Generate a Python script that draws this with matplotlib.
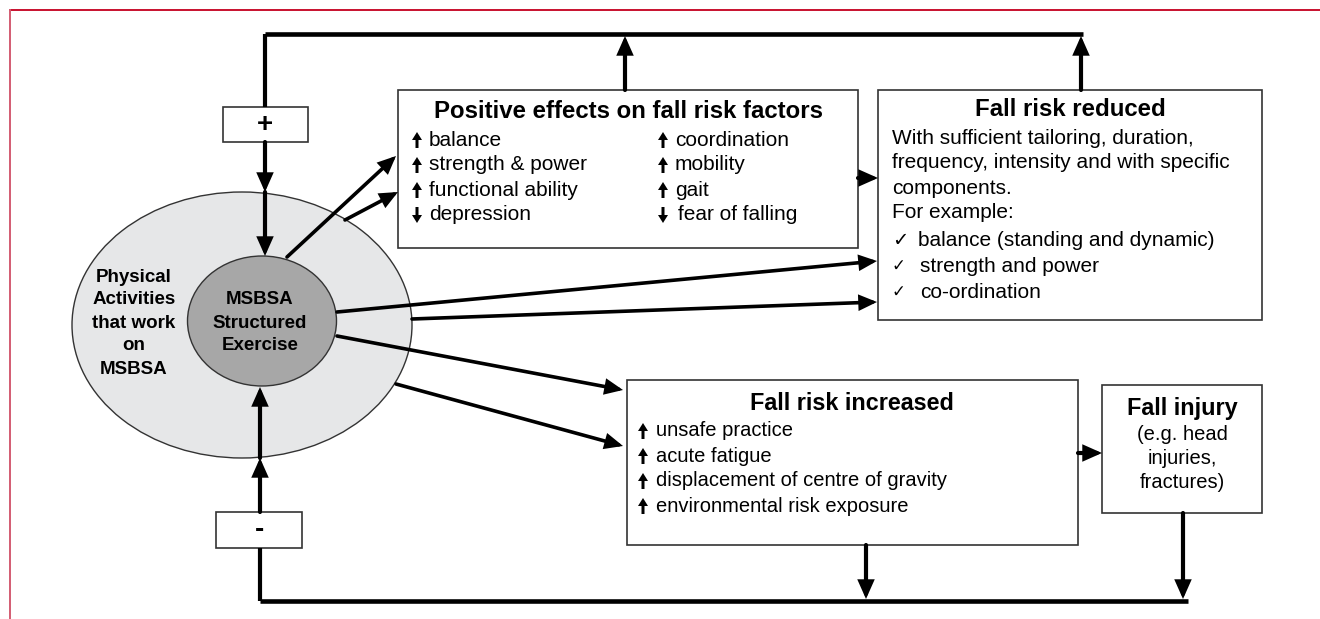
import matplotlib
matplotlib.use('Agg')
import matplotlib.pyplot as plt
from matplotlib import font_manager
from matplotlib.patches import Ellipse, Rectangle, FancyArrow

# 字体
names = {f.name for f in font_manager.fontManager.ttflist}
SANS = ['Liberation Sans', 'DejaVu Sans']
if 'Liberation Sans Narrow' in names:
    NARROW = ['Liberation Sans Narrow', 'DejaVu Sans']
    narrow_scale = 1.0
else:
    NARROW = SANS
    narrow_scale = 0.84

# 数据
outer_lines = ['Physical', 'Activities', 'that work', 'on', 'MSBSA']
inner_lines = ['MSBSA', 'Structured', 'Exercise']

positive_title = 'Positive effects on fall risk factors'
positive_left = [('up', 'balance'), ('up', 'strength & power'),
                 ('up', 'functional ability'), ('down', 'depression')]
positive_right = [('up', 'coordination'), ('up', 'mobility'),
                  ('up', 'gait'), ('down', 'fear of falling')]

reduced_title = 'Fall risk reduced'
reduced_lines = ['With sufficient tailoring, duration,',
                 'frequency, intensity and with specific',
                 'components.', 'For example:']
reduced_checks = ['balance (standing and dynamic)', 'strength and power', 'co-ordination']

increased_title = 'Fall risk increased'
increased_items = [('up', 'unsafe practice'), ('up', 'acute fatigue'),
                   ('up', 'displacement of centre of gravity'),
                   ('up', 'environmental risk exposure')]

injury_title = 'Fall injury'
injury_lines = ['(e.g. head', 'injuries,', 'fractures)']

plus_sign = '+'
minus_sign = '-'

fig = plt.figure(figsize=(13.2, 6.19), dpi=100)
ax = fig.add_axes([0, 0, 1, 1])
ax.set_xlim(0, 1320)
ax.set_ylim(619, 0)
ax.axis('off')


def box(x0, y0, x1, y1):
    ax.add_patch(Rectangle((x0, y0), x1 - x0, y1 - y0, facecolor='white',
                           edgecolor='#333333', lw=1.2, zorder=3))


def arrow(p0, p1, lw=3.0):
    ax.annotate('', xy=p1, xytext=p0,
                arrowprops=dict(arrowstyle='-|>,head_length=0.45,head_width=0.2',
                                lw=lw, color='black', mutation_scale=20,
                                shrinkA=0, shrinkB=0, joinstyle='miter'),
                zorder=5)


def line(xs, ys, lw=3.0):
    ax.plot(xs, ys, color='black', lw=lw, solid_capstyle='butt', zorder=4)


def marker(x, y, direction):
    # 小箭头符号
    dy = -16 if direction == 'up' else 16
    ax.add_patch(FancyArrow(x, y - dy / 2, 0, dy, width=3, head_width=10,
                            head_length=8, length_includes_head=True,
                            color='black', lw=0, zorder=6))


# 红色边框
ax.plot([10, 1320], [10, 10], color='#c8102e', lw=1.4)
ax.plot([10, 10], [10, 619], color='#d35c72', lw=1.4)

# 椭圆
ax.add_patch(Ellipse((242, 325), 340, 266, facecolor='#e6e7e8',
                     edgecolor='#333333', lw=1.0, zorder=1))
ax.add_patch(Ellipse((262, 321), 149, 130, facecolor='#a7a7a7',
                     edgecolor='#333333', lw=1.0, zorder=2))
for i, t in enumerate(outer_lines):
    ax.text(134, 277 + i * 23, t, ha='center', va='center', fontsize=13.5,
            fontweight='bold', family=SANS, zorder=6)
for i, t in enumerate(inner_lines):
    ax.text(260, 300 + i * 23, t, ha='center', va='center', fontsize=13.5,
            fontweight='bold', family=SANS, zorder=6)

# 顶部反馈线
line([265, 265], [34, 107])
line([265, 1083], [34, 34], lw=3.3)
box(223, 107, 308, 142)
ax.text(265, 125, plus_sign, ha='center', va='center', fontsize=20,
        fontweight='bold', family=SANS, zorder=6)
arrow((265, 142), (265, 192))
arrow((265, 192), (265, 256))
arrow((625, 90), (625, 36))
arrow((1081, 90), (1081, 36))

# 底部反馈线
line([260, 1188], [601, 601], lw=3.3)
line([260, 260], [548, 601])
box(216, 512, 302, 548)
ax.text(259, 530, minus_sign, ha='center', va='center', fontsize=20,
        fontweight='bold', family=SANS, zorder=6)
arrow((260, 512), (260, 458))
arrow((260, 458), (260, 387))
arrow((866, 545), (866, 599))
arrow((1183, 513), (1183, 599))

# 从圆出发的箭头
arrow((287, 257), (396, 156), lw=2.6)
arrow((345, 220), (398, 192), lw=2.6)
arrow((337, 312), (877, 261), lw=2.6)
arrow((412, 319), (877, 302), lw=2.6)
arrow((337, 336), (623, 390), lw=2.6)
arrow((396, 384), (623, 446), lw=2.6)
arrow((858, 178), (878, 178))
arrow((1078, 453), (1102, 453))

# Positive effects 框
box(398, 90, 858, 248)
ax.text(628, 112, positive_title, ha='center', va='center', fontsize=17.3,
        fontweight='bold', family=SANS, zorder=6)
for i, (d, t) in enumerate(positive_left):
    y = 140 + i * 25
    marker(417, y, d)
    ax.text(429, y, t, ha='left', va='center', fontsize=15, family=SANS, zorder=6)
for i, (d, t) in enumerate(positive_right):
    y = 140 + i * 25
    marker(663, y, d)
    ax.text(675 + (3 if d == 'down' else 0), y, t, ha='left', va='center',
            fontsize=15, family=SANS, zorder=6)

# Fall risk reduced 框
box(878, 90, 1262, 320)
ax.text(1070, 110, reduced_title, ha='center', va='center', fontsize=17.3,
        fontweight='bold', family=SANS, zorder=6)
for i, t in enumerate(reduced_lines):
    ax.text(892, 138 + i * 25, t, ha='left', va='center', fontsize=15,
            family=SANS, zorder=6)
for i, t in enumerate(reduced_checks):
    y = 240 + i * 26
    ax.text(892, y, '\u2713', ha='left', va='center', fontsize=14 if i == 0 else 12,
            family=['DejaVu Sans'], zorder=6)
    ax.text(918 if i == 0 else 920, y, t, ha='left', va='center', fontsize=15,
            family=SANS, zorder=6)

# Fall risk increased 框
box(627, 380, 1078, 545)
ax.text(852, 403, increased_title, ha='center', va='center',
        fontsize=20 * narrow_scale, fontweight='bold', family=NARROW, zorder=6)
for i, (d, t) in enumerate(increased_items):
    y = 431 + i * 25
    marker(643, y, d)
    ax.text(656, y, t, ha='left', va='center', fontsize=17.3 * narrow_scale,
            family=NARROW, zorder=6)

# Fall injury 框
box(1102, 385, 1262, 513)
ax.text(1182, 409, injury_title, ha='center', va='center',
        fontsize=20 * narrow_scale, fontweight='bold', family=NARROW, zorder=6)
for i, t in enumerate(injury_lines):
    ax.text(1182, 434 + i * 24, t, ha='center', va='center',
            fontsize=17.3 * narrow_scale, family=NARROW, zorder=6)

fig.savefig('out.png', dpi=100)
